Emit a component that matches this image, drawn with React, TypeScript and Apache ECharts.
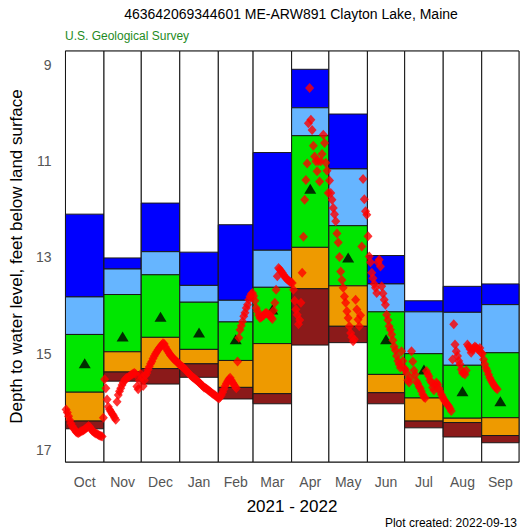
import { useEffect, useRef } from "react";
import * as echarts from "echarts";

// ---- Data ----
const monthNames = ["Oct", "Nov", "Dec", "Jan", "Feb", "Mar", "Apr", "May", "Jun", "Jul", "Aug", "Sep"];
const monthDays = [31, 30, 31, 31, 28, 31, 30, 31, 30, 31, 31, 30];

// Period-of-record statistics per month (depth, feet below land surface)
const recordHighest = [12.10, 13.01, 11.87, 12.89, 12.32, 10.82, 9.09, 10.02, 12.96, 13.90, 13.60, 13.55];
const pct90 = [13.82, 13.24, 12.88, 13.58, 13.89, 12.85, 9.89, 11.16, 13.55, 14.13, 14.14, 13.98];
const pct75 = [14.60, 13.77, 13.36, 13.93, 14.34, 13.62, 10.47, 12.34, 14.13, 15.00, 15.24, 14.98];
const pct25 = [15.80, 14.96, 14.66, 14.91, 15.14, 14.79, 12.79, 13.59, 15.43, 15.92, 16.34, 16.33];
const pct10 = [16.40, 15.38, 15.31, 15.21, 15.70, 15.83, 13.65, 14.43, 15.81, 16.40, 16.43, 16.70];
const recordLowest = [16.56, 15.57, 15.63, 15.49, 15.94, 16.04, 14.82, 14.77, 16.04, 16.54, 16.73, 16.85];
const monthlyMedian = [15.20, 14.64, 14.23, 14.56, 14.70, 14.08, 11.57, 13.00, 14.70, 15.33, 15.78, 15.99];

// Daily values, water year 2021-2022
const octLevels = [16.16, 16.22, 16.3, 16.38, 16.45, 16.5, 16.55, 16.58, 16.62, 16.64, 16.65, 16.63, 16.61, 16.6, 16.59, 16.57, 16.55, 16.53, 16.5, 16.52, 16.56, 16.6, 16.62, 16.64, 16.66, 16.67, 16.69, 16.7, 16.71, 16.72, 16.33];
const novLevels = [15.53, 15.72, 15.95, 16.1, 16.16, 16.2, 16.25, 16.28, 16.33, 16.37, 16.0, 15.86, 15.78, 15.72, 15.65, 15.6, 15.55, 15.52, 15.5, 15.49, 15.47, 15.45, 15.43, 15.41, 15.4, 15.42, 15.68, 15.74, 15.55, 15.42];
const decLevels = [15.5, 15.67, 15.55, 15.45, 15.4, 15.33, 15.27, 15.21, 15.16, 15.1, 15.05, 15.0, 14.96, 14.92, 14.88, 14.85, 14.82, 14.78, 14.8, 14.86, 14.91, 14.95, 14.99, 15.03, 15.06, 15.09, 15.12, 15.14, 15.16, 15.19, 15.22];
const janLevels = [15.24, 15.26, 15.28, 15.3, 15.33, 15.36, 15.39, 15.41, 15.44, 15.47, 15.49, 15.51, 15.53, 15.55, 15.57, 15.6, 15.62, 15.65, 15.67, 15.7, 15.71, 15.73, 15.75, 15.77, 15.79, 15.81, 15.83, 15.85, 15.87, 15.89, 15.91];
const febLevels = [15.93, 15.9, 15.86, 15.8, 15.74, 15.67, 15.62, 15.57, 15.53, 15.5, 15.55, 15.6, 15.64, 15.68, 15.72, 15.16, 14.67, 14.5, 14.42, 14.33, 14.22, 14.15, 14.05, 13.98, 13.88, 13.81, 13.76, 13.74];
const marLevels = [13.8, 13.9, 14.05, 14.12, 14.2, 14.26, 14.24, 14.22, 14.2, 14.17, 14.15, 14.17, 14.19, 14.2, 14.24, 14.28, 14.1, 13.94, 13.67, 13.39, 13.22, 13.25, 13.28, 13.32, 13.36, 13.4, 13.43, 13.46, 13.48, 13.5, 13.52];
const aprLevels = [13.53, 13.67, 13.9, 14.08, 14.19, 14.39, 14.3, 13.94, 13.32, 12.57, 11.8, 11.39, 11.05, 10.21, 9.48, 10.14, 10.35, 10.68, 10.9, 11.0, 11.21, 11.0, 11.42, 11.0, 10.85, 10.45, 10.62, 11.03, 11.2, 11.66];
const mayLevels = [11.4, 11.66, 11.8, 11.97, 12.1, 12.25, 12.5, 12.69, 12.99, 13.29, 13.47, 13.63, 13.81, 13.94, 14.12, 14.26, 14.43, 14.57, 14.66, 14.74, 14.7, 13.88, 14.08, 14.29, 14.43, 14.2, 12.77, 11.37, 11.79, 12.04, 12.11];
const junLevels = [12.56, 12.98, 13.1, 13.32, 13.43, 13.55, 13.63, 13.74, 13.1, 13.05, 13.19, 13.6, 13.75, 13.88, 13.98, 14.19, 14.3, 14.43, 14.5, 14.6, 14.72, 14.85, 14.93, 15.05, 15.15, 15.22, 15.29, 14.95, 15.15, 15.3];
const julLevels = [15.33, 15.4, 15.55, 15.6, 15.5, 14.95, 15.16, 15.35, 15.43, 15.57, 15.62, 15.68, 15.72, 15.78, 15.85, 15.9, 15.92, 15.36, 15.42, 15.47, 15.55, 15.6, 15.7, 15.76, 15.65, 15.6, 15.64, 15.72, 15.78, 15.85, 15.9];
const augLevels = [15.95, 15.99, 16.03, 16.06, 16.09, 16.14, 16.19, 15.12, 14.39, 14.81, 14.95, 15.05, 15.15, 15.22, 15.33, 15.4, 15.4, 15.43, 15.35, 14.81, 14.85, 14.9, 14.98, 14.92, 14.88, 14.85, 14.87, 14.9, 14.91, 14.88, 14.98];
const sepLevels = [15.0, 15.12, 15.22, 15.3, 15.36, 15.43, 15.5, 15.55, 15.6, 15.64, 15.68, 15.71, 15.74];

const yTicks = [9, 11, 13, 15, 17];
const yMin = 8.71;
const yMax = 17.25;

const bandColors = ["#0000FF", "#66B5FF", "#00E600", "#EE9A00", "#8B1A1A"];

export default function App() {
  const ref = useRef<HTMLDivElement>(null);

  useEffect(() => {
    if (!ref.current) return;
    const chart = echarts.init(ref.current, null, { renderer: "svg" });

    const monthStart: number[] = [];
    let acc = 0;
    for (const d of monthDays) {
      monthStart.push(acc);
      acc += d;
    }
    const totalDays = acc;
    const monthCenters = monthStart.map((s, i) => s + monthDays[i] / 2);

    const columns = monthNames.map((_, i) => [
      monthStart[i],
      monthStart[i] + monthDays[i],
      recordHighest[i],
      pct90[i],
      pct75[i],
      pct25[i],
      pct10[i],
      recordLowest[i],
    ]);

    const daily = [
      ...octLevels, ...novLevels, ...decLevels, ...janLevels, ...febLevels, ...marLevels,
      ...aprLevels, ...mayLevels, ...junLevels, ...julLevels, ...augLevels, ...sepLevels,
    ];
    const dailyPoints = daily.map((v, d) => [d + 0.5, v]);
    const medianPoints = monthlyMedian.map((m, i) => [monthCenters[i], m]);

    const font = "Liberation Sans, Arial, Helvetica, sans-serif";

    chart.setOption({
      animation: false,
      grid: {
        left: 65,
        top: 51,
        right: 5,
        bottom: 69,
        show: true,
        borderColor: "#808080",
        borderWidth: 1,
        backgroundColor: "transparent",
      },
      xAxis: {
        type: "value",
        min: 0,
        max: totalDays,
        axisLine: { show: true, lineStyle: { color: "#808080" } },
        axisTick: { show: false },
        splitLine: { show: false },
        axisLabel: {
          customValues: monthCenters,
          formatter: (v: number) => {
            let best = 0;
            let bd = Infinity;
            monthCenters.forEach((c, i) => {
              if (Math.abs(c - v) < bd) {
                bd = Math.abs(c - v);
                best = i;
              }
            });
            return monthNames[best];
          },
          color: "#555",
          fontSize: 14,
          fontFamily: font,
          margin: 13,
        },
      },
      yAxis: {
        type: "value",
        inverse: true,
        min: yMin,
        max: yMax,
        name: "Depth to water level, feet below land surface",
        nameLocation: "middle",
        nameGap: 21,
        nameTextStyle: { fontSize: 17, color: "#000", fontFamily: font },
        axisLine: { show: true, lineStyle: { color: "#808080" } },
        axisTick: {
          show: true,
          inside: true,
          length: 5,
          customValues: yTicks,
          lineStyle: { color: "#808080" },
        },
        splitLine: { show: false },
        axisLabel: {
          customValues: yTicks,
          color: "#555",
          fontSize: 14,
          fontFamily: font,
          margin: 14,
        },
      },
      graphic: [
        {
          type: "text",
          x: 291,
          y: 14,
          style: {
            text: "463642069344601 ME-ARW891 Clayton Lake, Maine",
            fill: "#000",
            font: `14px ${font}`,
            textAlign: "center",
            textVerticalAlign: "middle",
          },
        },
        {
          type: "text",
          x: 65,
          y: 36,
          style: {
            text: "U.S. Geological Survey",
            fill: "#1E8B1E",
            font: `12px ${font}`,
            textAlign: "left",
            textVerticalAlign: "middle",
          },
        },
        {
          type: "text",
          x: 292,
          y: 506,
          style: {
            text: "2021 - 2022",
            fill: "#000",
            font: `17px ${font}`,
            textAlign: "center",
            textVerticalAlign: "middle",
          },
        },
        {
          type: "text",
          x: 517,
          y: 523,
          style: {
            text: "Plot created: 2022-09-13",
            fill: "#000",
            font: `12px ${font}`,
            textAlign: "right",
            textVerticalAlign: "middle",
          },
        },
      ],
      series: [
        {
          type: "custom",
          data: columns,
          encode: { x: [0, 1], y: [2, 7] },
          z: 1,
          renderItem: (params: any, api: any) => {
            const s = api.value(0);
            const e = api.value(1);
            const x0 = api.coord([s, yMin])[0];
            const x1 = api.coord([e, yMin])[0];
            const yTop = api.coord([s, yMin])[1];
            const yBot = api.coord([s, yMax])[1];
            const children: any[] = [
              {
                type: "rect",
                shape: { x: x0, y: yTop, width: x1 - x0, height: yBot - yTop },
                style: { fill: "#FFFFFF", stroke: "#111", lineWidth: 1 },
              },
            ];
            for (let k = 0; k < 5; k++) {
              const ya = api.coord([s, api.value(2 + k)])[1];
              const yb = api.coord([s, api.value(3 + k)])[1];
              children.push({
                type: "rect",
                shape: { x: x0, y: ya, width: x1 - x0, height: yb - ya },
                style: { fill: bandColors[k], stroke: "#1a1a1a", lineWidth: 1 },
              });
            }
            return { type: "group", children };
          },
        },
        {
          type: "scatter",
          data: medianPoints,
          symbol: "triangle",
          symbolSize: [12, 10],
          itemStyle: { color: "#000" },
          z: 3,
        },
        {
          type: "scatter",
          data: dailyPoints,
          symbol: "diamond",
          symbolSize: [9, 10],
          itemStyle: { color: "#FF0000" },
          z: 4,
        },
      ],
    });

    return () => chart.dispose();
  }, []);

  return (
    <div
      ref={ref}
      style={{ position: "absolute", left: 0, top: 0, width: 524, height: 531 }}
    />
  );
}
